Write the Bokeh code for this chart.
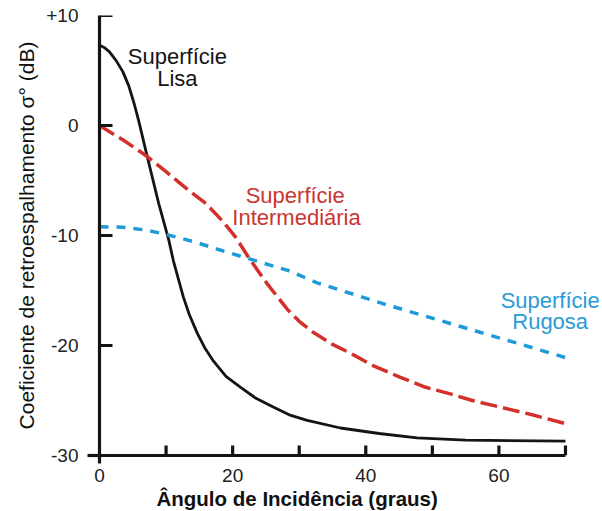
from bokeh.plotting import figure
from bokeh.models import FixedTicker, Label, Title, Range1d
from bokeh.embed import file_html
from bokeh.resources import INLINE

# Backscatter coefficient vs. incidence angle for three surface types
angle_lisa = [0, 0.7, 1.5, 2.5, 3.5, 4.4, 5.2, 5.9, 7.2, 8.9, 10.4, 11.1, 12.6, 13.5,
              14.7, 15.8, 17.1, 19.0, 21.2, 23.5, 26.1, 28.5, 31.2, 36.2, 42.0, 47.7, 55.0, 70]
sigma_lisa = [7.3, 7.1, 6.7, 5.9, 4.9, 3.6, 2.0, 0.4, -2.9, -7.1, -10.4, -12.3, -15.6, -17.2,
              -18.9, -20.2, -21.4, -22.8, -23.8, -24.8, -25.6, -26.3, -26.8, -27.5, -28.0, -28.4, -28.6, -28.7]

angle_inter = [0, 3.5, 6.9, 10.0, 13.4, 16.0, 18.5, 20.5, 22.4, 25.2, 28.2, 30.0, 32.1, 35.0,
               37.7, 41.0, 45.2, 49.0, 52.7, 56.0, 60.2, 65.0, 70]
sigma_inter = [0, -1.3, -2.7, -4.2, -5.9, -7.1, -8.7, -10.2, -12.0, -14.4, -16.7, -17.8, -18.8, -19.9,
               -20.7, -21.8, -22.9, -23.8, -24.4, -25.0, -25.6, -26.3, -27.1]

angle_rug = [0, 3.5, 6.9, 10.0, 14.4, 18.0, 22.4, 28.4, 32.7, 42.6, 52.7, 62.8, 70]
sigma_rug = [-9.2, -9.25, -9.5, -9.9, -10.6, -11.3, -12.1, -13.2, -14.3, -16.2, -18.0, -19.8, -21.1]

x_ticks = [0, 20, 40, 60]
x_minor = [10, 30, 50, 70]
y_ticks = [-30, -20, -10, 0, 10]
y_tick_labels = ["-30", "-20", "-10", "0", "+10"]

FONT = "Liberation Sans"
BLACK = "#141414"
RED = "#d3302b"
BLUE = "#1f9ad8"

X0, X1 = 0, 75.56
Y0, Y1 = -30, 10
FRAME_W, FRAME_H = 503, 440   # frame size in pixels

p = figure(width=602, height=511, output_backend="svg", toolbar_location=None,
           x_range=Range1d(X0, X1), y_range=Range1d(Y0, Y1),
           min_border_left=99, min_border_right=0, min_border_top=15, min_border_bottom=56)
p.outline_line_color = None
p.grid.grid_line_color = None
p.background_fill_color = "white"
p.border_fill_color = "white"

# curves
p.line(angle_lisa, sigma_lisa, line_color=BLACK, line_width=2.8)
p.line(angle_inter, sigma_inter, line_color=RED, line_width=3.5, line_dash="17 6")
p.line(angle_rug, sigma_rug, line_color=BLUE, line_width=3.5, line_dash="9 8")

# inward tick marks (10 px on the x axis, 13 px on the y axis)
tick_dy = 10 * (Y1 - Y0) / FRAME_H
tick_dx = 13 * (X1 - X0) / FRAME_W
xt = x_ticks[1:] + x_minor
p.segment(x0=xt, y0=[Y0] * len(xt), x1=xt, y1=[Y0 + tick_dy] * len(xt),
          line_color=BLACK, line_width=3.2)
yt = y_ticks[1:]
p.segment(x0=[X0] * len(yt), y0=yt, x1=[X0 + tick_dx] * len(yt), y1=yt,
          line_color=BLACK, line_width=3.2)

# axes
for ax in (p.xaxis[0], p.yaxis[0]):
    ax.axis_line_width = 3.2
    ax.axis_line_color = BLACK
    ax.major_tick_in = 0
    ax.major_tick_out = 0
    ax.minor_tick_in = 0
    ax.minor_tick_line_width = 3.2
    ax.minor_tick_line_color = BLACK
    ax.major_label_text_font = FONT
    ax.major_label_text_font_size = "19px"
    ax.major_label_text_color = "#222222"

p.xaxis.bounds = (0, 70)
p.xaxis.ticker = FixedTicker(ticks=x_ticks, minor_ticks=[0])
p.xaxis.minor_tick_out = 8
p.xaxis.major_label_standoff = 5

p.yaxis.ticker = FixedTicker(ticks=y_ticks, minor_ticks=[-30])
p.yaxis.minor_tick_out = 12
p.yaxis.major_label_overrides = {t: s for t, s in zip(y_ticks, y_tick_labels)}
p.yaxis.major_label_standoff = 9
p.yaxis.axis_label = "Coeficiente de retroespalhamento σ° (dB)"
p.yaxis.axis_label_text_font = FONT
p.yaxis.axis_label_text_font_size = "21px"
p.yaxis.axis_label_text_font_style = "normal"
p.yaxis.axis_label_text_color = "#111111"
p.yaxis.axis_label_standoff = 5

xlabel = Title(text="Ângulo de Incidência (graus)", align="left", offset=57,
               text_font=FONT, text_font_size="20.5px", text_font_style="bold",
               text_color="#111111", standoff=0)
p.add_layout(xlabel, "below")

# curve annotations
def note(x, y, text, color):
    p.add_layout(Label(x=x, y=y, text=text, text_color=color, text_font=FONT,
                       text_font_size="22px", text_align="center",
                       text_baseline="middle"))

note(11.7, 6.3, "Superfície", BLACK)
note(11.7, 4.3, "Lisa", BLACK)
note(29.4, -6.4, "Superfície", "#c93530")
note(29.6, -8.4, "Intermediária", "#c93530")
note(67.7, -15.9, "Superfície", "#2a9bd6")
note(67.7, -17.8, "Rugosa", "#2a9bd6")

open("out.html", "w").write(file_html(p, INLINE))
